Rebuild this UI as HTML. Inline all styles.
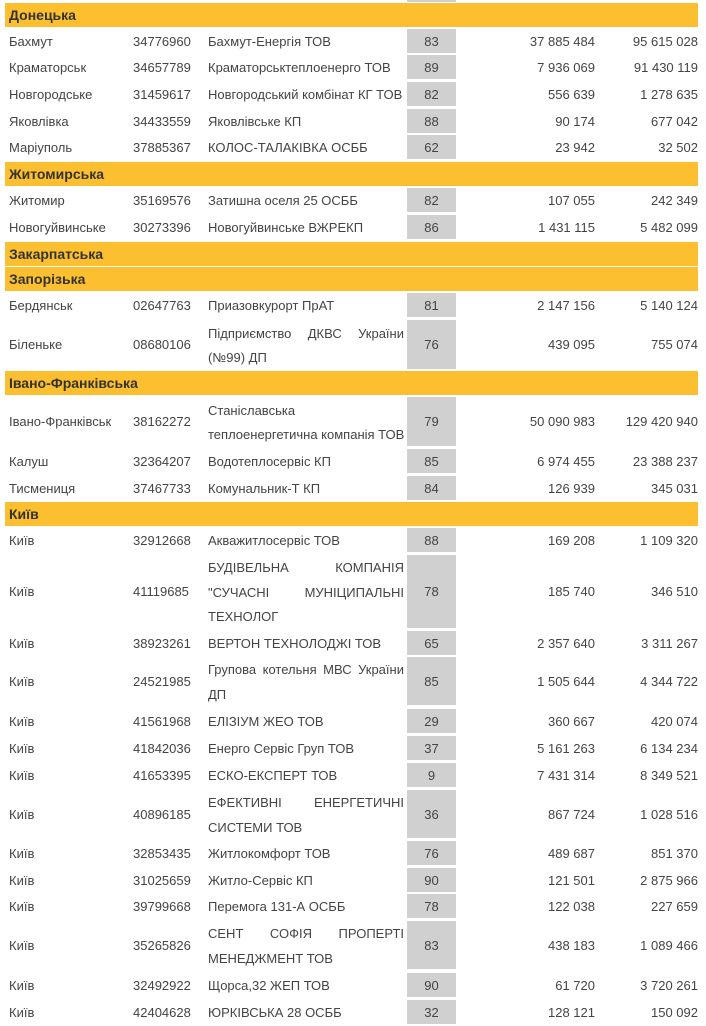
<!DOCTYPE html>
<html><head><meta charset="utf-8"><style>
body{margin:0;width:706px;height:1024px;overflow:hidden;background:#fff;font-family:"Liberation Sans",Arial,sans-serif;font-size:13px;color:#444;position:relative}
.h{position:absolute;left:5px;width:693px;height:24px;background:#fbbf2f;font-weight:bold;color:#333;font-size:14px;line-height:24px;padding-left:4px;box-sizing:border-box}
.r{position:absolute;left:0;width:706px}
.r div{position:absolute;top:0;height:100%;display:flex;align-items:center}
.c1{left:9px}.c2{left:133px}
.c3{left:208px;width:196px;flex-direction:column;justify-content:center;align-items:stretch!important;line-height:24.5px;white-space:nowrap}
.c3 span{display:flex;justify-content:space-between;position:relative;top:1.5px}
.c4{left:407px;width:49px;background:#d0d0d0;justify-content:center}
.c5{right:111px}.c6{right:8px}
i{font-style:normal}
</style></head><body>
<div class="r" style="top:-22px;height:24px"><div class="c4"></div></div>
<div class="h" style="top:3px">Донецька</div>
<div class="r" style="top:29px;height:24px"><div class="c1">Бахмут</div><div class="c2">34776960</div><div class="c3"><span>Бахмут-Енергія ТОВ</span></div><div class="c4">83</div><div class="c5">37 885 484</div><div class="c6">95 615 028</div></div>
<div class="r" style="top:55px;height:24px"><div class="c1">Краматорськ</div><div class="c2">34657789</div><div class="c3"><span>Краматорськтеплоенерго ТОВ</span></div><div class="c4">89</div><div class="c5">7 936 069</div><div class="c6">91 430 119</div></div>
<div class="r" style="top:82px;height:24px"><div class="c1">Новгородське</div><div class="c2">31459617</div><div class="c3"><span>Новгородський комбінат КГ ТОВ</span></div><div class="c4">82</div><div class="c5">556 639</div><div class="c6">1 278 635</div></div>
<div class="r" style="top:109px;height:24px"><div class="c1">Яковлівка</div><div class="c2">34433559</div><div class="c3"><span>Яковлівське КП</span></div><div class="c4">88</div><div class="c5">90 174</div><div class="c6">677 042</div></div>
<div class="r" style="top:135px;height:24px"><div class="c1">Маріуполь</div><div class="c2">37885367</div><div class="c3"><span>КОЛОС-ТАЛАКІВКА ОСББ</span></div><div class="c4">62</div><div class="c5">23 942</div><div class="c6">32 502</div></div>
<div class="h" style="top:162px">Житомирська</div>
<div class="r" style="top:188px;height:24px"><div class="c1">Житомир</div><div class="c2">35169576</div><div class="c3"><span>Затишна оселя 25 ОСББ</span></div><div class="c4">82</div><div class="c5">107 055</div><div class="c6">242 349</div></div>
<div class="r" style="top:215px;height:24px"><div class="c1">Новогуйвинське</div><div class="c2">30273396</div><div class="c3"><span>Новогуйвинське ВЖРЕКП</span></div><div class="c4">86</div><div class="c5">1 431 115</div><div class="c6">5 482 099</div></div>
<div class="h" style="top:242px">Закарпатська</div>
<div class="h" style="top:267px">Запорізька</div>
<div class="r" style="top:293px;height:24px"><div class="c1">Бердянськ</div><div class="c2">02647763</div><div class="c3"><span>Приазовкурорт ПрАТ</span></div><div class="c4">81</div><div class="c5">2 147 156</div><div class="c6">5 140 124</div></div>
<div class="r" style="top:320px;height:49px"><div class="c1">Біленьке</div><div class="c2">08680106</div><div class="c3"><span><i>Підприємство</i><i>ДКВС</i><i>України</i></span><span style="justify-content:flex-start">(№99) ДП</span></div><div class="c4">76</div><div class="c5">439 095</div><div class="c6">755 074</div></div>
<div class="h" style="top:371px">Івано-Франківська</div>
<div class="r" style="top:397px;height:49px"><div class="c1">Івано-Франківськ</div><div class="c2">38162272</div><div class="c3"><span style="justify-content:flex-start">Станіславська</span><span style="justify-content:flex-start">теплоенергетична компанія ТОВ</span></div><div class="c4">79</div><div class="c5">50 090 983</div><div class="c6">129 420 940</div></div>
<div class="r" style="top:449px;height:24px"><div class="c1">Калуш</div><div class="c2">32364207</div><div class="c3"><span>Водотеплосервіс КП</span></div><div class="c4">85</div><div class="c5">6 974 455</div><div class="c6">23 388 237</div></div>
<div class="r" style="top:476px;height:24px"><div class="c1">Тисмениця</div><div class="c2">37467733</div><div class="c3"><span>Комунальник-Т КП</span></div><div class="c4">84</div><div class="c5">126 939</div><div class="c6">345 031</div></div>
<div class="h" style="top:502px">Київ</div>
<div class="r" style="top:528px;height:24px"><div class="c1">Київ</div><div class="c2">32912668</div><div class="c3"><span>Акважитлосервіс ТОВ</span></div><div class="c4">88</div><div class="c5">169 208</div><div class="c6">1 109 320</div></div>
<div class="r" style="top:555px;height:73px"><div class="c1">Київ</div><div class="c2">41119685</div><div class="c3"><span><i>БУДІВЕЛЬНА</i><i>КОМПАНІЯ</i></span><span><i>"СУЧАСНІ</i><i>МУНІЦИПАЛЬНІ</i></span><span style="justify-content:flex-start">ТЕХНОЛОГ</span></div><div class="c4">78</div><div class="c5">185 740</div><div class="c6">346 510</div></div>
<div class="r" style="top:631px;height:24px"><div class="c1">Київ</div><div class="c2">38923261</div><div class="c3"><span>ВЕРТОН ТЕХНОЛОДЖІ ТОВ</span></div><div class="c4">65</div><div class="c5">2 357 640</div><div class="c6">3 311 267</div></div>
<div class="r" style="top:657px;height:48px"><div class="c1">Київ</div><div class="c2">24521985</div><div class="c3"><span><i>Групова</i><i>котельня</i><i>МВС</i><i>України</i></span><span style="justify-content:flex-start">ДП</span></div><div class="c4">85</div><div class="c5">1 505 644</div><div class="c6">4 344 722</div></div>
<div class="r" style="top:709px;height:24px"><div class="c1">Київ</div><div class="c2">41561968</div><div class="c3"><span>ЕЛІЗІУМ ЖЕО ТОВ</span></div><div class="c4">29</div><div class="c5">360 667</div><div class="c6">420 074</div></div>
<div class="r" style="top:736px;height:24px"><div class="c1">Київ</div><div class="c2">41842036</div><div class="c3"><span>Енерго Сервіс Груп ТОВ</span></div><div class="c4">37</div><div class="c5">5 161 263</div><div class="c6">6 134 234</div></div>
<div class="r" style="top:763px;height:24px"><div class="c1">Київ</div><div class="c2">41653395</div><div class="c3"><span>ЕСКО-ЕКСПЕРТ ТОВ</span></div><div class="c4">9</div><div class="c5">7 431 314</div><div class="c6">8 349 521</div></div>
<div class="r" style="top:790px;height:48px"><div class="c1">Київ</div><div class="c2">40896185</div><div class="c3"><span><i>ЕФЕКТИВНІ</i><i>ЕНЕРГЕТИЧНІ</i></span><span style="justify-content:flex-start">СИСТЕМИ ТОВ</span></div><div class="c4">36</div><div class="c5">867 724</div><div class="c6">1 028 516</div></div>
<div class="r" style="top:841px;height:24px"><div class="c1">Київ</div><div class="c2">32853435</div><div class="c3"><span>Житлокомфорт ТОВ</span></div><div class="c4">76</div><div class="c5">489 687</div><div class="c6">851 370</div></div>
<div class="r" style="top:868px;height:24px"><div class="c1">Київ</div><div class="c2">31025659</div><div class="c3"><span>Житло-Сервіс КП</span></div><div class="c4">90</div><div class="c5">121 501</div><div class="c6">2 875 966</div></div>
<div class="r" style="top:894px;height:24px"><div class="c1">Київ</div><div class="c2">39799668</div><div class="c3"><span>Перемога 131-А ОСББ</span></div><div class="c4">78</div><div class="c5">122 038</div><div class="c6">227 659</div></div>
<div class="r" style="top:921px;height:48px"><div class="c1">Київ</div><div class="c2">35265826</div><div class="c3"><span><i>СЕНТ</i><i>СОФІЯ</i><i>ПРОПЕРТІ</i></span><span style="justify-content:flex-start">МЕНЕДЖМЕНТ ТОВ</span></div><div class="c4">83</div><div class="c5">438 183</div><div class="c6">1 089 466</div></div>
<div class="r" style="top:973px;height:24px"><div class="c1">Київ</div><div class="c2">32492922</div><div class="c3"><span>Щорса,32 ЖЕП ТОВ</span></div><div class="c4">90</div><div class="c5">61 720</div><div class="c6">3 720 261</div></div>
<div class="r" style="top:1000px;height:24px"><div class="c1">Київ</div><div class="c2">42404628</div><div class="c3"><span>ЮРКІВСЬКА 28 ОСББ</span></div><div class="c4">32</div><div class="c5">128 121</div><div class="c6">150 092</div></div>
</body></html>
